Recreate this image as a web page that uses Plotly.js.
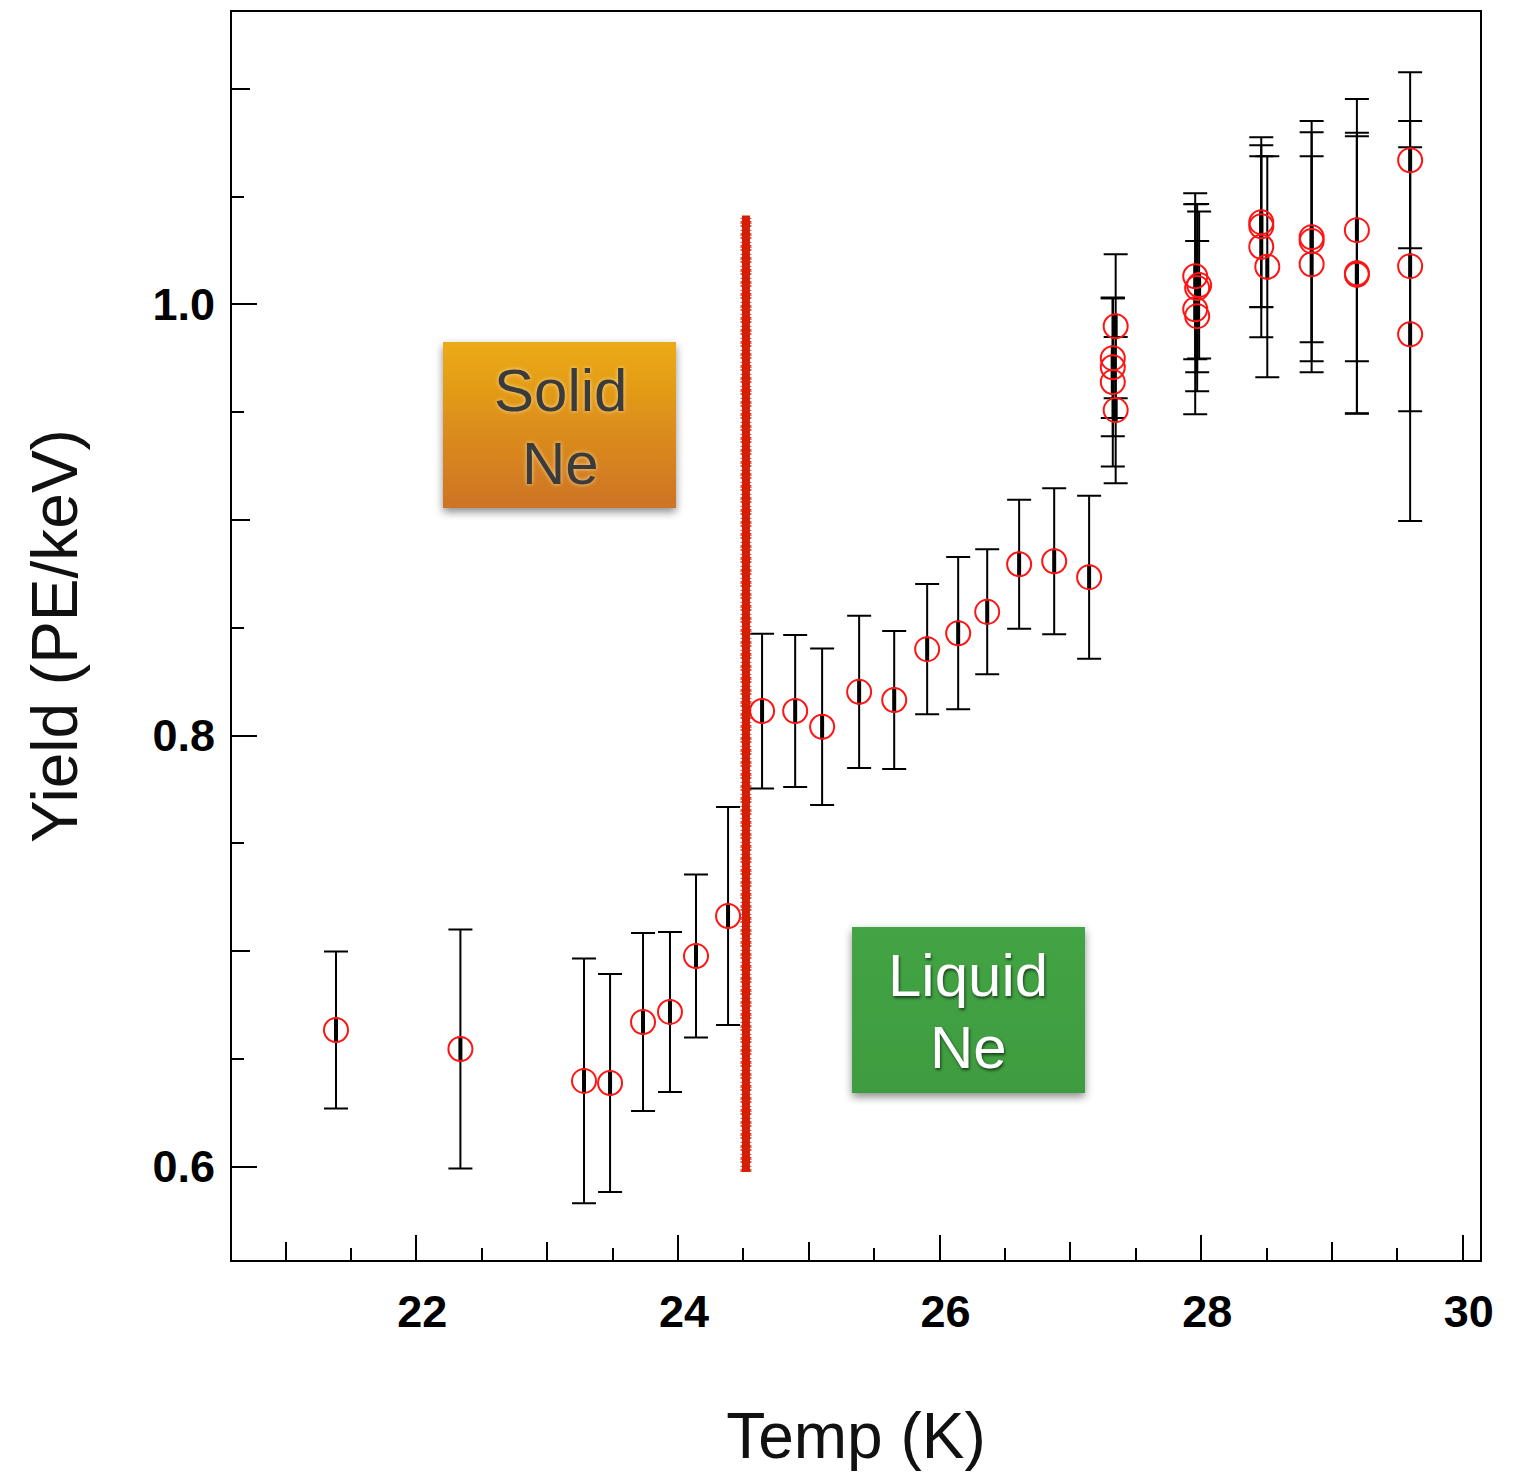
<!DOCTYPE html>
<html>
<head>
<meta charset="utf-8">
<script src="https://cdn.plot.ly/plotly-3.0.1.min.js"></script>
<style>
html,body{margin:0;padding:0;background:#fff;}
#chart{width:1517px;height:1472px;}
</style>
</head>
<body>
<div id="chart"></div>
<script>
// ---- data ----
const tempK = [
  21.386, 22.337, 23.282, 23.481, 23.733, 23.939, 24.138, 24.383,
  24.643, 24.896, 25.102, 25.385, 25.653, 25.905, 26.142, 26.364,
  26.608, 26.876, 27.143,
  27.346, 27.324, 27.324, 27.324, 27.346,
  27.954, 27.984, 27.969, 27.954, 27.969,
  28.459, 28.459, 28.459, 28.505,
  28.844, 28.844, 28.844,
  29.190, 29.190, 29.190,
  29.597, 29.597, 29.597
];
const yieldPE = [
  0.6634, 0.6546, 0.6398, 0.6388, 0.6671, 0.6718, 0.6977, 0.7163,
  0.8114, 0.8114, 0.8041, 0.8203, 0.8165, 0.8401, 0.8475, 0.8574,
  0.8795, 0.8809, 0.8735,
  0.9899, 0.9751, 0.9709, 0.9640, 0.9510,
  1.0131, 1.0090, 1.0076, 0.9978, 0.9946,
  1.0382, 1.0363, 1.0268, 1.0175,
  1.0312, 1.0294, 1.0187,
  1.0345, 1.0145, 1.0138,
  1.0669, 1.0178, 0.9862
];
const yieldErr = [
  0.0364, 0.0554, 0.0568, 0.0506, 0.0413, 0.0371, 0.0378, 0.0506,
  0.0359, 0.0353, 0.0363, 0.0353, 0.0320, 0.0302, 0.0353, 0.0290,
  0.0299, 0.0339, 0.0378,
  0.0334, 0.0278, 0.0320, 0.0392, 0.0339,
  0.0385, 0.0341, 0.0390, 0.0487, 0.0348,
  0.0394, 0.0376, 0.0420, 0.0513,
  0.0487, 0.0557, 0.0501,
  0.0608, 0.0652, 0.0642,
  0.0408, 0.0673, 0.0867
];
// solid / liquid transition marker
const meltT = 24.52;
const meltLineY = [0.5975, 1.0413];

const xRange = [20.591, 30.131];
const yRange = [0.5567, 1.1357];

// ---- styling ----
const FONT = 'Liberation Sans, Arial, Helvetica, sans-serif';
const M = {l: 232, r: 37, t: 12, b: 212};
const PW = 1517 - M.l - M.r, PH = 1472 - M.t - M.b;
function px2paperX(px){ return (px - M.l) / PW; }
function px2paperY(py){ return (M.t + PH - py) / PH; }

function boxSVG(w, h, stops){
  const pad = 12;
  let s = "<svg xmlns='http://www.w3.org/2000/svg' width='" + (w + 2*pad) + "' height='" + (h + 2*pad) + "'>" +
    "<defs><linearGradient id='g' x1='0' y1='0' x2='0' y2='1'>" +
    "<stop offset='0' stop-color='" + stops[0] + "'/><stop offset='1' stop-color='" + stops[1] + "'/></linearGradient>" +
    "<filter id='s' x='-20%' y='-20%' width='140%' height='150%'>" +
    "<feDropShadow dx='0' dy='4' stdDeviation='4' flood-color='#000' flood-opacity='0.45'/></filter></defs>" +
    "<rect x='" + pad + "' y='" + pad + "' width='" + w + "' height='" + h + "' fill='url(#g)' filter='url(#s)'/>" +
    "</svg>";
  return 'data:image/svg+xml;charset=utf-8,' + encodeURIComponent(s);
}
function boxImage(left, top, w, h, stops){
  const pad = 12;
  return {
    source: boxSVG(w, h, stops),
    xref: 'paper', yref: 'paper',
    x: px2paperX(left - pad), y: px2paperY(top - pad),
    sizex: (w + 2*pad) / PW, sizey: (h + 2*pad) / PH,
    xanchor: 'left', yanchor: 'top', sizing: 'stretch', layer: 'above'
  };
}

const traces = [
  {
    x: tempK, y: yieldPE, type: 'scatter', mode: 'markers',
    marker: {symbol: 'line-ns-open', size: 18, color: '#000', line: {color: '#000', width: 4}},
    error_y: {type: 'data', array: yieldErr, visible: true, color: '#000', thickness: 2, width: 12},
    hoverinfo: 'skip', showlegend: false
  },
  {
    x: tempK, y: yieldPE, type: 'scatter', mode: 'markers',
    marker: {symbol: 'circle-open', size: 24, color: '#ff1414', line: {width: 2}},
    showlegend: false
  },
  { x: [], y: [], type: 'scatter', mode: 'markers', xaxis: 'x2', yaxis: 'y2', showlegend: false, hoverinfo: 'skip' }
];

const tickFont = {family: FONT, size: 45, color: '#000', weight: 'bold'};
const titleFont = {family: FONT, size: 64, color: '#111'};

const layout = {
  width: 1517, height: 1472,
  margin: M,
  paper_bgcolor: '#fff', plot_bgcolor: '#fff',
  showlegend: false,
  xaxis: {
    range: xRange, dtick: 2, tick0: 0,
    ticks: 'inside', ticklen: 25, tickwidth: 2, tickcolor: '#000',
    minor: {dtick: 0.5, tick0: 0, ticks: 'inside', ticklen: 12, tickwidth: 2, tickcolor: '#000', showgrid: false},
    showline: true, linewidth: 2, linecolor: '#000', mirror: true,
    showgrid: false, zeroline: false,
    tickfont: tickFont, ticklabelshift: 6, ticklabelstandoff: 11,
    title: {text: 'Temp (K)', font: titleFont, standoff: 77}
  },
  yaxis: {
    range: yRange, dtick: 0.2, tick0: 0, tickformat: '.1f',
    ticks: 'inside', ticklen: 25, tickwidth: 2, tickcolor: '#000',
    minor: {dtick: 0.05, tick0: 0, ticks: 'inside', ticklen: 12, tickwidth: 2, tickcolor: '#000', showgrid: false},
    showline: true, linewidth: 2, linecolor: '#000', mirror: true,
    showgrid: false, zeroline: false,
    tickfont: tickFont, ticklabelstandoff: 6,
    title: {text: 'Yield (PE/keV)', font: titleFont, standoff: 54}
  },
  xaxis2: {
    overlaying: 'x', anchor: 'y2', side: 'bottom', range: xRange,
    dtick: 1, tick0: 0, ticks: 'inside', ticklen: 18, tickwidth: 2, tickcolor: '#000',
    showticklabels: false, showline: false, showgrid: false, zeroline: false
  },
  yaxis2: {
    overlaying: 'y', anchor: 'x2', side: 'left', range: yRange,
    dtick: 0.1, tick0: 0, ticks: 'inside', ticklen: 18, tickwidth: 2, tickcolor: '#000',
    showticklabels: false, showline: false, showgrid: false, zeroline: false
  },
  shapes: [
    {type: 'line', xref: 'x', yref: 'y', x0: meltT, x1: meltT, y0: meltLineY[0], y1: meltLineY[1],
     line: {color: '#d21e06', width: 8}, layer: 'above'},
    {type: 'line', xref: 'x', yref: 'y', x0: meltT, x1: meltT, y0: meltLineY[0], y1: meltLineY[1],
     line: {color: 'rgba(214,34,8,0.75)', width: 11, dash: '3px,2px,1px,3px,2px,1px'}, layer: 'above'}
  ],
  images: [
    boxImage(443, 342, 233, 166, ['#ecab12', '#cd7325']),
    boxImage(852, 927, 233, 166, ['#43a444', '#3e9c40'])
  ],
  annotations: [
    {xref: 'paper', yref: 'paper', x: px2paperX(560), y: px2paperY(390), text: 'Solid', showarrow: false,
     xanchor: 'center', yanchor: 'middle',
     font: {family: FONT, size: 60, color: '#3b3b3b', shadow: '0px 0px 4px rgba(255,230,170,0.9)'}},
    {xref: 'paper', yref: 'paper', x: px2paperX(560), y: px2paperY(463), text: 'Ne', showarrow: false,
     xanchor: 'center', yanchor: 'middle',
     font: {family: FONT, size: 60, color: '#3b3b3b', shadow: '0px 0px 4px rgba(255,230,170,0.9)'}},
    {xref: 'paper', yref: 'paper', x: px2paperX(968), y: px2paperY(975), text: 'Liquid', showarrow: false,
     xanchor: 'center', yanchor: 'middle',
     font: {family: FONT, size: 60, color: '#ffffff', shadow: '1px 2px 3px rgba(0,0,0,0.6)'}},
    {xref: 'paper', yref: 'paper', x: px2paperX(968), y: px2paperY(1047), text: 'Ne', showarrow: false,
     xanchor: 'center', yanchor: 'middle',
     font: {family: FONT, size: 60, color: '#ffffff', shadow: '1px 2px 3px rgba(0,0,0,0.6)'}}
  ]
};

Plotly.newPlot('chart', traces, layout, {displayModeBar: false, staticPlot: true});
</script>
</body>
</html>
